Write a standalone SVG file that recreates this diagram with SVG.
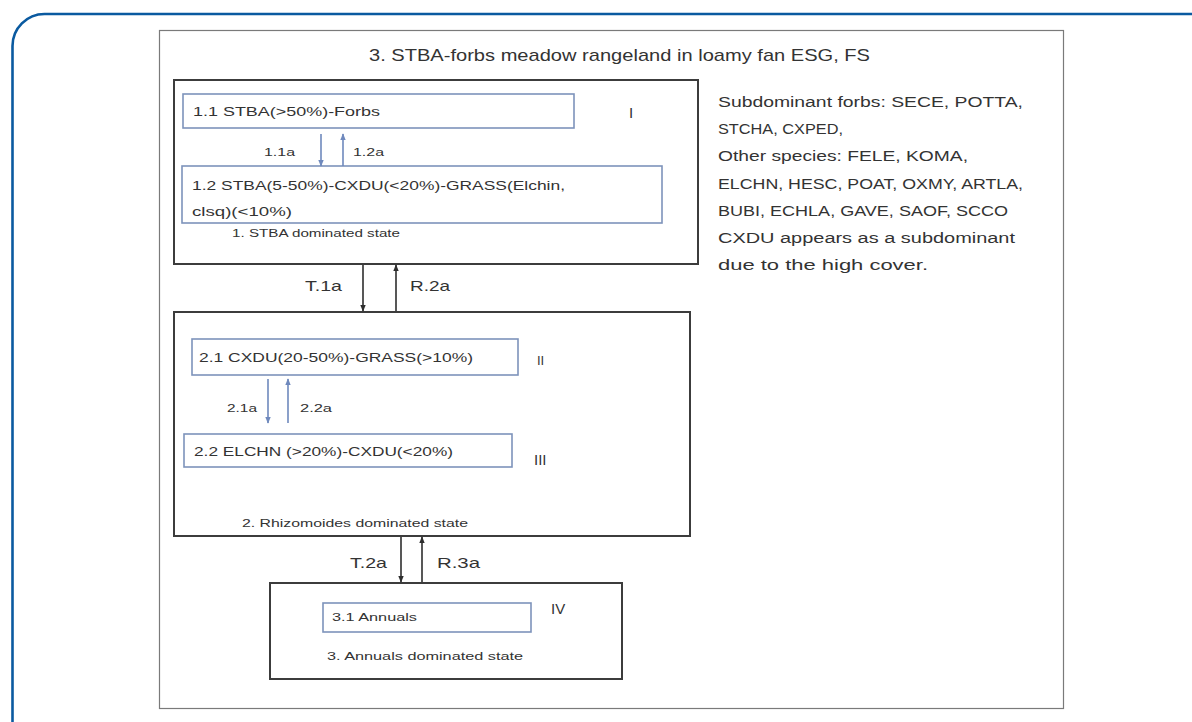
<svg xmlns="http://www.w3.org/2000/svg" width="1192" height="722" viewBox="0 0 1192 722">
<defs>
<style>
text{font-family:"Liberation Sans",Arial,sans-serif;fill:#333}
.t{font-size:13px}
.s{font-size:10px}
.l{font-size:15px}
.r{font-size:15.5px}
.n{font-size:15px}
.state{fill:#fff;stroke:#3c3c3c;stroke-width:2}
.phase{fill:#fff;stroke:#7d93bb;stroke-width:1.6}
.blk{stroke:#2e2e2e;stroke-width:1.6;fill:none}
.blu{stroke:#6f89bd;stroke-width:1.6;fill:none}
</style>
<marker id="ab" viewBox="0 0 10 10" refX="9" refY="5" markerWidth="7" markerHeight="7" markerUnits="userSpaceOnUse" orient="auto"><path d="M0,1 L10,5 L0,9 z" fill="#2e2e2e"/></marker>
<marker id="au" viewBox="0 0 10 10" refX="9" refY="5" markerWidth="7" markerHeight="7" markerUnits="userSpaceOnUse" orient="auto"><path d="M0,1 L10,5 L0,9 z" fill="#6f89bd"/></marker>
</defs>
<rect x="12.5" y="14" width="1210" height="740" rx="32" fill="#fff" stroke="#0a5aa0" stroke-width="2.6"/>
<rect x="159.5" y="30.5" width="904" height="678" fill="#fff" stroke="#7a7a7a" stroke-width="1.2"/>
<text x="369" y="61" font-size="17" textLength="501" lengthAdjust="spacingAndGlyphs">3. STBA-forbs meadow rangeland in loamy fan ESG, FS</text>
<g id="notes">
<text class="r" x="718" y="107" textLength="305" lengthAdjust="spacingAndGlyphs">Subdominant forbs: SECE, POTTA,</text>
<text class="r" x="718" y="134" textLength="125" lengthAdjust="spacingAndGlyphs">STCHA, CXPED,</text>
<text class="r" x="718" y="161" textLength="250" lengthAdjust="spacingAndGlyphs">Other species: FELE, KOMA,</text>
<text class="r" x="718" y="189" textLength="305" lengthAdjust="spacingAndGlyphs">ELCHN, HESC, POAT, OXMY, ARTLA,</text>
<text class="r" x="718" y="216" textLength="290" lengthAdjust="spacingAndGlyphs">BUBI, ECHLA, GAVE, SAOF, SCCO</text>
<text class="r" x="718" y="243" textLength="297" lengthAdjust="spacingAndGlyphs">CXDU appears as a subdominant</text>
<text class="r" x="718" y="270" textLength="210" lengthAdjust="spacingAndGlyphs">due to the high cover.</text>
</g>
<g id="state1">
<rect class="state" x="174" y="80" width="524" height="184"/>
<text class="s" x="232" y="237" textLength="168" lengthAdjust="spacingAndGlyphs">1. STBA dominated state</text>
<text class="n" x="629" y="118">I</text>
</g>
<g id="phase11">
<rect class="phase" x="183" y="94" width="391" height="34"/>
<text class="t" x="193" y="116" textLength="187" lengthAdjust="spacingAndGlyphs">1.1 STBA(&gt;50%)-Forbs</text>
</g>
<g id="phase12">
<rect class="phase" x="182" y="166" width="480" height="57"/>
<text class="t" x="192" y="190" textLength="373" lengthAdjust="spacingAndGlyphs">1.2 STBA(5-50%)-CXDU(&lt;20%)-GRASS(Elchin,</text>
<text class="t" x="192" y="216" textLength="100" lengthAdjust="spacingAndGlyphs">clsq)(&lt;10%)</text>
</g>
<g id="state2">
<rect class="state" x="174" y="312" width="516" height="224"/>
<text class="s" x="242" y="527" textLength="226" lengthAdjust="spacingAndGlyphs">2. Rhizomoides dominated state</text>
<text class="t" x="537" y="365">II</text>
<text class="n" x="534" y="465">III</text>
</g>
<g id="phase21">
<rect class="phase" x="192" y="339" width="326" height="36"/>
<text class="t" x="199" y="362" textLength="274" lengthAdjust="spacingAndGlyphs">2.1 CXDU(20-50%)-GRASS(&gt;10%)</text>
</g>
<g id="phase22">
<rect class="phase" x="184" y="434" width="328" height="33"/>
<text class="t" x="194" y="456" textLength="259" lengthAdjust="spacingAndGlyphs">2.2 ELCHN (&gt;20%)-CXDU(&lt;20%)</text>
</g>
<g id="state3">
<rect class="state" x="270" y="583" width="352" height="96"/>
<text class="s" x="327" y="660" textLength="196" lengthAdjust="spacingAndGlyphs">3. Annuals dominated state</text>
<text class="n" x="551" y="614">IV</text>
</g>
<g id="phase31">
<rect class="phase" x="323" y="603" width="208" height="29"/>
<text class="s" x="332" y="621" textLength="85" lengthAdjust="spacingAndGlyphs">3.1 Annuals</text>
</g>
<g id="connectors">
<line class="blu" x1="321" y1="134" x2="321" y2="166" marker-end="url(#au)"/>
<line class="blu" x1="343" y1="166" x2="343" y2="134" marker-end="url(#au)"/>
<text class="s" x="264" y="156" textLength="31" lengthAdjust="spacingAndGlyphs">1.1a</text>
<text class="s" x="353" y="156" textLength="31" lengthAdjust="spacingAndGlyphs">1.2a</text>
<line class="blu" x1="268" y1="379" x2="268" y2="423" marker-end="url(#au)"/>
<line class="blu" x1="288" y1="423" x2="288" y2="379" marker-end="url(#au)"/>
<text class="s" x="227" y="412" textLength="30" lengthAdjust="spacingAndGlyphs">2.1a</text>
<text class="s" x="300" y="412" textLength="32" lengthAdjust="spacingAndGlyphs">2.2a</text>
<line class="blk" x1="363" y1="265" x2="363" y2="311" marker-end="url(#ab)"/>
<line class="blk" x1="396" y1="311" x2="396" y2="265" marker-end="url(#ab)"/>
<text class="l" x="305" y="291" textLength="37" lengthAdjust="spacingAndGlyphs">T.1a</text>
<text class="l" x="410" y="291" textLength="40" lengthAdjust="spacingAndGlyphs">R.2a</text>
<line class="blk" x1="401" y1="537" x2="401" y2="582" marker-end="url(#ab)"/>
<line class="blk" x1="422" y1="582" x2="422" y2="537" marker-end="url(#ab)"/>
<text class="l" x="350" y="568" textLength="37" lengthAdjust="spacingAndGlyphs">T.2a</text>
<text class="l" x="437" y="568" textLength="43" lengthAdjust="spacingAndGlyphs">R.3a</text>
</g>
</svg>
